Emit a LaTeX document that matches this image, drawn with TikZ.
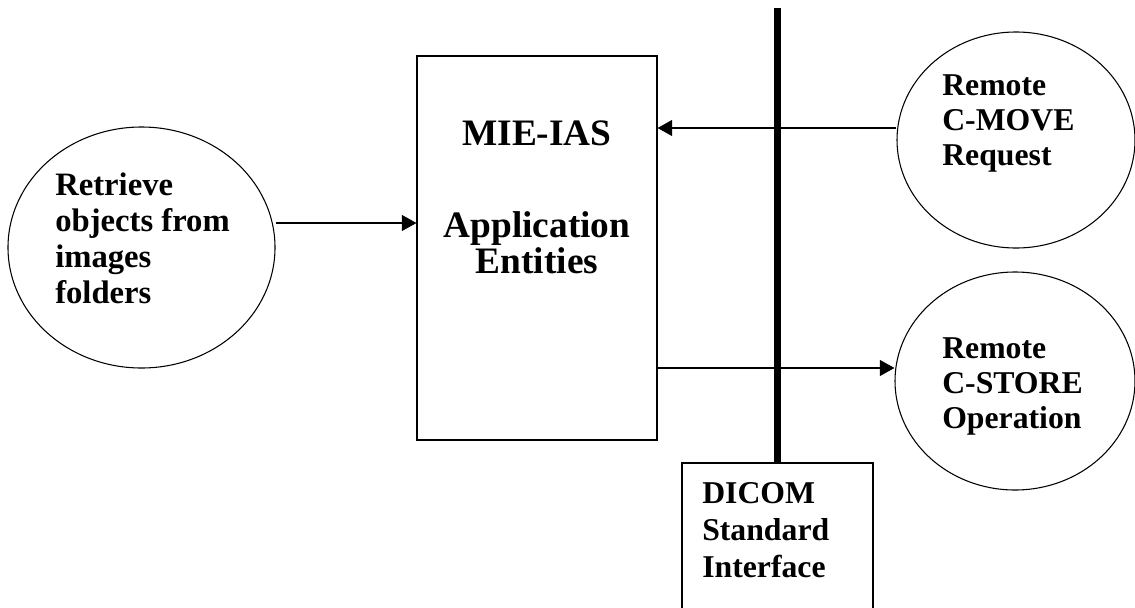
\documentclass[tikz,border=0pt]{standalone}
\usepackage{fontspec}
\setmainfont{Liberation Serif}
\usetikzlibrary{shapes.geometric,arrows.meta}
\begin{document}
\begin{tikzpicture}[x=0.75pt,y=-0.75pt,
  bubble/.style={draw,ellipse,line width=0.8pt,inner sep=0pt},
  boxshape/.style={draw,rectangle,line width=0.8pt,inner sep=0pt},
  txt/.style={font=\fontsize{24.5}{27}\selectfont\bfseries,align=left,inner sep=0pt,anchor=base west},
  arr/.style={line width=0.9pt,-{Triangle[length=11pt,width=12pt]}},
  bus/.style={line width=5.5pt}]
\useasboundingbox (0,0) rectangle (1135,607);
\clip (0,0) rectangle (1135,607);
% shapes
\node[bubble,minimum width=200.25pt,minimum height=180.75pt] (ret) at (141.5,247.5) {};
\node[bubble,minimum width=178.5pt,minimum height=162pt] (cmove) at (1016,140) {};
\node[bubble,minimum width=180pt,minimum height=163.5pt] (cstore) at (1015,381) {};
\node[boxshape,minimum width=180pt,minimum height=288pt] (mie) at (537,248) {};
\node[boxshape,minimum width=143.25pt,minimum height=150pt] (dicom) at (777.5,563) {};
\coordinate (bustop) at (777.5,8);
\draw[bus] (bustop) -- (dicom.north);
% texts (anchor = baseline of last line)
\node[txt] (tret) at (55,303) {Retrieve\\objects from\\images\\folders};
\node[txt,font=\fontsize{23.8}{26.25}\selectfont\bfseries] (tcmove) at (942,165) {Remote\\C-MOVE\\Request};
\node[txt,font=\fontsize{23.8}{26.25}\selectfont\bfseries] (tcstore) at (942,428) {Remote\\C-STORE\\Operation};
\node[txt,font=\fontsize{28}{27}\selectfont\bfseries,align=center,anchor=base] (tmie) at (537,273) {MIE-IAS\\[42pt]Application\\Entities};
\node[txt,font=\fontsize{23.8}{27.75}\selectfont\bfseries] (tdicom) at (702,577) {DICOM\\Standard\\Interface};
% connectors
\draw[arr] (ret.east |- 0,223) -- (mie.west |- 0,223);
\draw[arr] (cmove.west |- 0,128) -- (mie.east |- 0,128);
\draw[arr] (mie.east |- 0,368) -- (cstore.west |- 0,368);
\end{tikzpicture}
\end{document}
